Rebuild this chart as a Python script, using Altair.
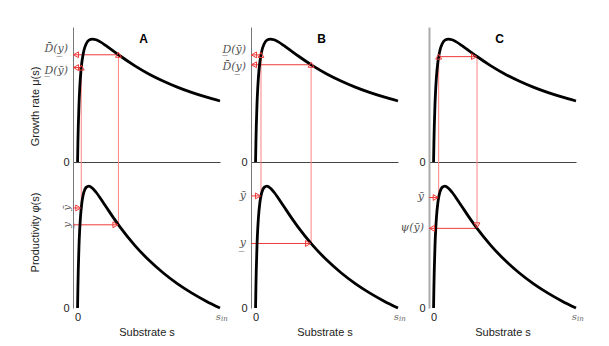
import altair as alt
import pandas as pd

# ---------------- values ----------------
s_grid = [0, 0.0025, 0.005, 0.01, 0.015, 0.02, 0.03, 0.0375, 0.045, 0.06, 0.08,
          0.105, 0.13, 0.16, 0.2, 0.25, 0.3, 0.4, 0.5, 0.6, 0.7, 0.8, 0.9, 1.0]
mu_curve = [0, 0.158, 0.284, 0.467, 0.595, 0.687, 0.809, 0.867, 0.909, 0.960, 0.991,
            1.000, 0.994, 0.977, 0.946, 0.904, 0.862, 0.784, 0.716, 0.659, 0.609,
            0.566, 0.529, 0.496]
phi_curve = [0, 0.173, 0.309, 0.507, 0.642, 0.738, 0.861, 0.916, 0.952, 0.989, 1.000,
             0.982, 0.949, 0.900, 0.830, 0.743, 0.661, 0.516, 0.393, 0.289, 0.200,
             0.124, 0.058, 0]

panels = ["A", "B", "C"]
s_low = [0.026, 0.038, 0.036]
s_high = [0.287, 0.390, 0.305]
mu_low = [0.768, 0.871, 0.857]
mu_high = [0.872, 0.791, 0.857]
phi_low = [0.820, 0.919, 0.906]
phi_high = [0.682, 0.529, 0.653]

D_UP = "D\u0304(y\u0332)"
D_LOW = "D\u0332(\u0233)"
Y_BAR = "\u0233"
Y_UND = "y\u0332"
PSI = "\u03c8(\u0233)"
top_title = "Growth rate \u03bc(s)"
bot_title = "Productivity \u03c6(s)"
x_title = "Substrate s"

# ---------------- styling ----------------
X_DOM = [-0.032, 1.0]
MU_DOM = [0, 1.098]
PHI_DOM = [0, 1.197]
W, H_TOP, H_BOT = 147, 135, 146
RED = "#f03a3a"
RED_V = "#ff8484"
SANS = "Liberation Sans"
SERIF = "DejaVu Serif"
LBL = "#555555"
DARK = "#222222"

curve_df = pd.DataFrame({"s": s_grid, "mu": mu_curve, "phi": phi_curve})


def xs(field, top):
    if top:
        ax = alt.Axis(domain=True, domainColor="#444444", domainWidth=1, labels=False,
                      ticks=False, grid=False, title="")
    else:
        ax = alt.Axis(values=[0], domain=False, ticks=False, grid=False, labelFont=SANS,
                      labelFontSize=11, labelColor=DARK, labelPadding=3, labelFlush=False,
                      title=x_title, titleFont=SANS, titleFontSize=11,
                      titleFontWeight="normal", titleColor=DARK, titlePadding=4)
    return alt.X(field, type="quantitative",
                 scale=alt.Scale(domain=X_DOM, nice=False, zero=False), axis=ax)


def ys(field, top, i):
    dom = MU_DOM if top else PHI_DOM
    kw = dict(values=[0], domain=True,
              domainColor="#aaaaaa" if i == 2 else "#777777",
              domainWidth=2 if i == 2 else 1, ticks=False, grid=False,
              labelFont=SANS, labelFontSize=11, labelColor=DARK, labelPadding=4)
    if i == 0:
        kw.update(title=top_title if top else bot_title, titleFont=SANS, titleFontSize=11,
                  titleFontWeight="normal", titleColor=DARK, titleX=-33,
                  titleY=79 if top else 70)
    else:
        kw.update(title="")
    return alt.Y(field, type="quantitative",
                 scale=alt.Scale(domain=dom, nice=False, zero=False), axis=alt.Axis(**kw))


def tri(df, shape, top, i, xo=0, yo=0):
    return alt.Chart(df).mark_point(shape=shape, filled=False, color=RED, size=34,
                                    strokeWidth=1, opacity=1, xOffset=xo, yOffset=yo).encode(
        x=xs("x", top), y=ys("y", top, i))


def side_label(text, val, top, i, dy=0, angle=0):
    df = pd.DataFrame({"t": [text], "y": [val]})
    if angle:
        m = alt.Chart(df).mark_text(font=SERIF, fontStyle="italic", fontSize=10, color=LBL,
                                    angle=angle, align="center", baseline="middle",
                                    dx=-dy, dy=-6)
    else:
        m = alt.Chart(df).mark_text(font=SERIF, fontStyle="italic", fontSize=11, color=LBL,
                                    align="right", baseline="middle", dx=-5, dy=dy)
    return m.encode(x=alt.value(0), y=ys("y", top, i), text="t:N")


def top_panel(i):
    curve = alt.Chart(curve_df).mark_line(color="black", strokeWidth=2.8,
                                          interpolate="monotone").encode(
        x=xs("s", True), y=ys("mu", True, i))
    if i < 2:
        h = pd.DataFrame({"x0": [X_DOM[0], X_DOM[0]], "x1": [s_low[i], s_high[i]],
                          "y": [mu_low[i], mu_high[i]]})
    else:
        h = pd.DataFrame({"x0": [s_low[i]], "x1": [s_high[i]], "y": [mu_low[i]]})
    hr = alt.Chart(h).mark_rule(color=RED, strokeWidth=1).encode(
        x=xs("x0", True), x2=alt.X2("x1"), y=ys("y", True, i))
    v = pd.DataFrame({"s": [s_low[i], s_high[i]], "y0": [0, 0], "y1": [mu_low[i], mu_high[i]]})
    vr = alt.Chart(v).mark_rule(color=RED_V, strokeWidth=1).encode(
        x=xs("s", True), y=ys("y0", True, i), y2=alt.Y2("y1"))
    layers = [vr, hr, curve]
    if i < 2:
        layers.append(tri(pd.DataFrame({"x": [s_low[i], s_high[i]],
                                        "y": [mu_low[i], mu_high[i]]}), "triangle-up", True, i))
        layers.append(tri(pd.DataFrame({"x": [X_DOM[0], X_DOM[0]],
                                        "y": [mu_low[i], mu_high[i]]}), "triangle-left", True, i, xo=3))
    else:
        layers.append(tri(pd.DataFrame({"x": [s_low[i]], "y": [mu_low[i]]}), "triangle-up", True, i))
        layers.append(tri(pd.DataFrame({"x": [s_high[i]], "y": [mu_high[i]]}), "triangle-right", True, i, xo=-3))
    if i == 0:
        layers.append(side_label(D_UP, mu_high[i], True, i, dy=-6))
        layers.append(side_label(D_LOW, mu_low[i], True, i, dy=3))
    elif i == 1:
        layers.append(side_label(D_LOW, mu_low[i], True, i, dy=-5))
        layers.append(side_label(D_UP, mu_high[i], True, i, dy=2))
    title = alt.Chart(pd.DataFrame({"t": [panels[i]]})).mark_text(
        font=SANS, fontWeight="bold", fontSize=12, color="black").encode(
        x=alt.value(W * 0.48), y=alt.value(12), text="t:N")
    layers.append(title)
    return alt.layer(*layers).properties(width=W, height=H_TOP)


def bottom_panel(i):
    curve = alt.Chart(curve_df).mark_line(color="black", strokeWidth=2.8,
                                          interpolate="monotone").encode(
        x=xs("s", False), y=ys("phi", False, i))
    h = pd.DataFrame({"x0": [X_DOM[0], X_DOM[0]], "x1": [s_low[i], s_high[i]],
                      "y": [phi_low[i], phi_high[i]]})
    hr = alt.Chart(h).mark_rule(color=RED, strokeWidth=1).encode(
        x=xs("x0", False), x2=alt.X2("x1"), y=ys("y", False, i))
    v = pd.DataFrame({"s": [s_low[i], s_high[i]], "y0": [phi_low[i], phi_high[i]],
                      "y1": [PHI_DOM[1], PHI_DOM[1]]})
    vr = alt.Chart(v).mark_rule(color=RED_V, strokeWidth=1).encode(
        x=xs("s", False), y=ys("y0", False, i), y2=alt.Y2("y1"))
    layers = [vr, hr, curve]
    if i < 2:
        layers.append(tri(pd.DataFrame({"x": [s_low[i], s_high[i]],
                                        "y": [phi_low[i], phi_high[i]]}), "triangle-right", False, i, xo=-3))
    else:
        layers.append(tri(pd.DataFrame({"x": [s_low[i]], "y": [phi_low[i]]}), "triangle-right", False, i, xo=-3))
        layers.append(tri(pd.DataFrame({"x": [s_high[i]], "y": [phi_high[i]]}), "triangle-down", False, i, yo=-3))
        layers.append(tri(pd.DataFrame({"x": [X_DOM[0]], "y": [phi_high[i]]}), "triangle-left", False, i, xo=3))
    if i == 0:
        layers.append(side_label(Y_BAR, phi_low[i], False, i, angle=270))
        layers.append(side_label(Y_UND, phi_high[i], False, i, angle=270))
    elif i == 1:
        layers.append(side_label(Y_BAR, phi_low[i], False, i))
        layers.append(side_label(Y_UND, phi_high[i], False, i))
    else:
        layers.append(side_label(Y_BAR, phi_low[i], False, i))
        layers.append(side_label(PSI, phi_high[i], False, i))
    s_in = pd.DataFrame({"a": ["s"], "b": ["in"]})
    layers.append(alt.Chart(s_in).mark_text(font=SERIF, fontStyle="italic", fontSize=10,
                                            color="#666666", align="right", baseline="middle").encode(
        x=alt.value(W + 1), y=alt.value(H_BOT + 9), text="a:N"))
    layers.append(alt.Chart(s_in).mark_text(font=SERIF, fontStyle="italic", fontSize=7,
                                            color="#666666", align="left", baseline="middle").encode(
        x=alt.value(W + 1), y=alt.value(H_BOT + 11), text="b:N"))
    return alt.layer(*layers).properties(width=W, height=H_BOT)


cells = [top_panel(i) for i in range(3)] + [bottom_panel(i) for i in range(3)]
chart = alt.concat(*cells, columns=3, spacing={"row": 0, "column": 31},
                   bounds="flush").configure_view(
    stroke="transparent").properties(
    padding={"left": 20, "top": 18, "right": 5, "bottom": 5})

chart.save("out.html", embed_options={"renderer": "svg", "actions": False})
